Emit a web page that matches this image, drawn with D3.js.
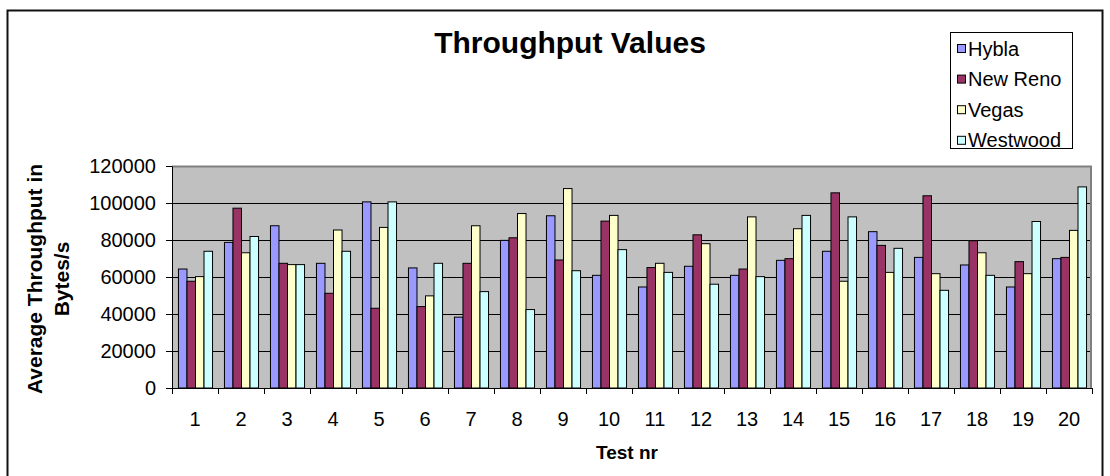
<!DOCTYPE html>
<html>
<head>
<meta charset="utf-8">
<script src="https://cdn.jsdelivr.net/npm/d3@7"></script>
<style>
  html, body { margin: 0; padding: 0; background: #fff; }
  svg { display: block; font-family: "Liberation Sans", Arial, sans-serif; }
</style>
</head>
<body>
<svg id="chart" width="1110" height="476"></svg>
<script>
const categories = ["1","2","3","4","5","6","7","8","9","10","11","12","13","14","15","16","17","18","19","20"];
const seriesNames = ["Hybla", "New Reno", "Vegas", "Westwood"];
const hybla    = [64300, 78700, 87700, 67400, 100600, 64900, 38300, 79800, 93100, 60900, 54600, 65800, 60900, 69000, 73900, 84500, 70600, 66500, 54600, 69900];
const newReno  = [57700, 97200, 67400, 51200, 43100, 44000, 67400, 81200, 69200, 90200, 65100, 82800, 64300, 69900, 105500, 77100, 103900, 79600, 68300, 70600];
const vegas    = [60200, 73100, 66700, 85400, 86800, 49800, 87700, 94300, 107800, 93300, 67400, 78000, 92500, 86100, 57700, 62500, 61800, 73100, 61800, 85200];
const westwood = [73900, 81900, 66700, 73900, 100600, 67400, 52100, 42400, 63400, 74800, 62500, 56100, 60200, 93300, 92500, 75500, 52800, 60900, 90000, 108700];
const yTicks = [0, 20000, 40000, 60000, 80000, 100000, 120000];
const colors = ["#9999FF", "#993366", "#FFFFCC", "#CCFFFF"];

const seriesValues = [hybla, newReno, vegas, westwood];
const W = 1110, H = 476;
const margin = {top: 166, right: 18, bottom: 88, left: 172};
const iw = W - margin.left - margin.right;
const ih = H - margin.top - margin.bottom;

const svg = d3.select("#chart");

// outer frame
svg.append("rect").attr("x", 7.5).attr("y", 10.5).attr("width", 1095).attr("height", 520)
  .attr("fill", "#fff").attr("stroke", "#111").attr("stroke-width", 2);

const g = svg.append("g").attr("transform", `translate(${margin.left},${margin.top})`);

const x0 = d3.scaleBand().domain(categories).range([0, iw]).padding(0);
const x1 = d3.scaleBand().domain(seriesNames).range([0, x0.bandwidth()]).paddingInner(0).paddingOuter(0.7);
const y = d3.scaleLinear().domain([0, 120000]).range([ih, 0]);

// plot background
g.append("rect").attr("x", 0).attr("y", 0).attr("width", iw).attr("height", ih).attr("fill", "#C0C0C0");

// gridlines
g.append("g").selectAll("line").data(yTicks.filter(d => d > 0 && d < 120000)).join("line")
  .attr("x1", 0).attr("x2", iw)
  .attr("y1", d => Math.round(y(d)) + 0.5).attr("y2", d => Math.round(y(d)) + 0.5)
  .attr("stroke", "#000").attr("stroke-width", 1);

// plot border top/right
g.append("path").attr("d", `M0,0.5H${iw - 1}V${ih}`).attr("fill", "none")
  .attr("stroke", "#808080").attr("stroke-width", 2);

// bars
const groups = g.append("g").selectAll("g").data(categories).join("g")
  .attr("transform", d => `translate(${x0(d)},0)`);
groups.selectAll("rect").data((c, i) => seriesNames.map((s, k) => ({s, k, v: seriesValues[k][i]}))).join("rect")
  .attr("x", d => x1(d.s) + 0.5)
  .attr("width", x1.bandwidth())
  .attr("y", d => y(d.v))
  .attr("height", d => ih - y(d.v))
  .attr("fill", d => colors[d.k])
  .attr("stroke", "#000").attr("stroke-width", 1);

// y axis
const yAxis = g.append("g")
  .call(d3.axisLeft(y).tickValues(yTicks).tickSize(6).tickPadding(10).tickFormat(d3.format("d")));
yAxis.select(".domain").attr("stroke", "#000");
yAxis.selectAll("text").attr("font-size", 20).attr("fill", "#000")
  .attr("font-family", "Liberation Sans, Arial, sans-serif");

// x axis
const xAxisG = g.append("g").attr("transform", `translate(0,${ih})`);
xAxisG.append("line").attr("x1", 0).attr("x2", iw).attr("y1", 0.5).attr("y2", 0.5).attr("stroke", "#000");
const boundaries = d3.range(categories.length + 1).map(i => i === categories.length ? iw : x0(categories[i]));
xAxisG.selectAll("line.tk").data(boundaries).join("line").attr("class", "tk")
  .attr("x1", d => Math.round(d) + 0.5).attr("x2", d => Math.round(d) + 0.5)
  .attr("y1", 0).attr("y2", 6).attr("stroke", "#000");
xAxisG.selectAll("text").data(categories).join("text")
  .attr("x", d => x0(d) + x0.bandwidth() / 2)
  .attr("y", 38)
  .attr("text-anchor", "middle")
  .attr("font-size", 20).attr("fill", "#000")
  .text(d => d);

// titles
svg.append("text").attr("x", 570).attr("y", 53).attr("text-anchor", "middle")
  .attr("font-size", 30).attr("font-weight", "bold").text("Throughput Values");
svg.append("text").attr("x", 627).attr("y", 459).attr("text-anchor", "middle")
  .attr("font-size", 19).attr("font-weight", "bold").text("Test nr");
const yt = svg.append("text").attr("transform", `translate(0,${margin.top + ih / 2 + 2}) rotate(-90)`)
  .attr("text-anchor", "middle").attr("font-size", 21).attr("font-weight", "bold");
yt.append("tspan").attr("x", 0).attr("y", 42).text("Average Throughput in");
yt.append("tspan").attr("x", 0).attr("y", 69).text("Bytes/s");

// legend
const lg = svg.append("g").attr("transform", "translate(950,32)");
lg.append("rect").attr("x", 0.5).attr("y", 0.5).attr("width", 122).attr("height", 116)
  .attr("fill", "#fff").attr("stroke", "#000").attr("stroke-width", 1);
const items = lg.selectAll("g.item").data(seriesNames).join("g").attr("class", "item")
  .attr("transform", (d, i) => `translate(0,${16 + i * 30.6})`);
items.append("rect").attr("x", 7.5).attr("y", -3.5).attr("width", 8).attr("height", 8)
  .attr("fill", (d, i) => colors[i]).attr("stroke", "#000").attr("stroke-width", 1);
items.append("text").attr("x", 18).attr("y", 7.5).attr("font-size", 20).attr("fill", "#000").text(d => d);
</script>
</body>
</html>
